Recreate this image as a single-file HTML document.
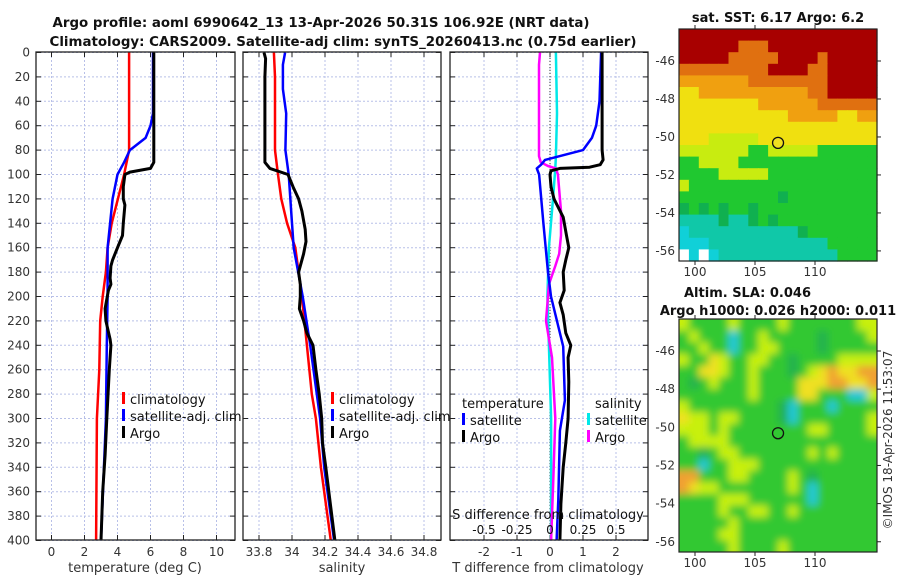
<!DOCTYPE html>
<html><head><meta charset="utf-8"><style>
body{margin:0;background:#fff;}
svg{display:block;font-family:"DejaVu Sans","Liberation Sans",sans-serif;}
.tk{font-size:12px;fill:#333;}
.tt{font-size:13px;font-weight:bold;fill:#111;}
.lg{font-size:13px;fill:#111;}
</style></head><body>
<svg id="fig" width="900" height="580" viewBox="0 0 900 580" xmlns="http://www.w3.org/2000/svg">
<defs>
<clipPath id="c1"><rect x="36" y="52" width="199" height="488"/></clipPath>
<clipPath id="c2"><rect x="243" y="52" width="198" height="488"/></clipPath>
<clipPath id="c3"><rect x="450" y="52" width="198" height="488"/></clipPath>
<clipPath id="cm2"><rect x="679" y="319" width="198" height="233"/></clipPath>
<filter id="bl" filterUnits="userSpaceOnUse" x="660" y="300" width="240" height="270"><feGaussianBlur stdDeviation="4"/></filter>
</defs>
<text class="tt" x="321" y="27" text-anchor="middle" textLength="537" lengthAdjust="spacingAndGlyphs">Argo profile: aoml 6990642_13 13-Apr-2026 50.31S 106.92E (NRT data)</text>
<text class="tt" x="343" y="46" text-anchor="middle" textLength="587" lengthAdjust="spacingAndGlyphs">Climatology: CARS2009. Satellite-adj clim: synTS_20260413.nc (0.75d earlier)</text>
<g id="plots"></g>
<g id="maps"></g>
<text class="tt" x="778" y="22" text-anchor="middle">sat. SST: 6.17 Argo: 6.2</text>
<text class="tt" x="684" y="297">Altim. SLA: 0.046</text>
<text class="tt" x="778" y="315" text-anchor="middle">Argo h1000: 0.026 h2000: 0.011</text>
<text class="tk" transform="translate(892,440) rotate(-90)" text-anchor="middle">©IMOS 18-Apr-2026 11:53:07</text>
</svg>
<script>
// ---- data ----
const tClimDepth=[0,80,100,140,160,180,200,220,260,300,400];
const tClim=[4.7,4.7,4.4,3.65,3.4,3.3,3.1,2.95,2.9,2.75,2.7];
const tSatDepth=[0,50,60,70,80,90,100,120,140,160,200,240,300,400];
const tSat=[6.15,6.15,6.0,5.7,4.75,4.4,4.0,3.7,3.55,3.4,3.4,3.35,3.3,3.0];
const tArgoDepth=[0,90,95,98,100,110,120,125,140,150,160,170,175,185,190,195,210,220,235,240,260,300,330,360,400];
const tArgo=[6.2,6.2,6.0,4.75,4.45,4.35,4.35,4.45,4.35,4.3,4.0,3.7,3.6,3.55,3.6,3.45,3.25,3.3,3.55,3.6,3.5,3.35,3.25,3.1,3.0];
const sClimDepth=[0,20,80,100,120,140,160,180,200,240,280,300,340,400];
const sClim=[33.89,33.897,33.897,33.915,33.935,33.97,34.02,34.04,34.06,34.09,34.12,34.145,34.175,34.235];
const sSatDepth=[0,10,30,50,80,100,140,160,200,240,300,340,400];
const sSat=[33.958,33.945,33.945,33.965,33.96,33.98,34.0,34.01,34.065,34.11,34.17,34.195,34.255];
const sArgoDepth=[0,5,20,90,95,100,110,120,130,145,155,165,180,190,200,210,220,230,240,260,280,300,320,340,400];
const sArgo=[33.83,33.84,33.836,33.836,33.866,33.976,34.006,34.04,34.06,34.08,34.085,34.07,34.04,34.05,34.05,34.045,34.07,34.09,34.127,34.145,34.165,34.18,34.185,34.205,34.26];
const dTSatDepth=[0,40,60,70,80,88,92,95,100,140,180,200,241,285,310,367,400];
const dTSat=[1.55,1.5,1.4,1.27,1.0,-0.15,-0.27,-0.4,-0.33,-0.2,-0.06,0.03,0.4,0.45,0.3,0.25,0.2];
const dTArgoDepth=[0,80,88,92,94,95,97,100,110,120,135,150,160,170,180,195,205,215,230,240,250,270,300,320,340,370,400];
const dTArgo=[1.58,1.58,1.61,1.52,1.2,0.3,0.03,0,0.03,0.12,0.4,0.5,0.57,0.48,0.4,0.43,0.3,0.4,0.48,0.63,0.55,0.57,0.55,0.48,0.4,0.33,0.3];
const dSSatDepth=[0,50,85,95,120,160,200,240,300,400];
const dSSat=[0.045,0.053,0.045,0.04,0.023,-0.008,-0.02,-0.008,0.008,0.008];
const dSArgoDepth=[0,10,60,85,90,93,95,100,130,150,165,175,190,200,220,230,250,300,350,400];
const dSArgo=[-0.076,-0.083,-0.083,-0.083,-0.07,-0.015,0.045,0.06,0.083,0.083,0.07,0.04,-0.008,-0.015,-0.03,-0.015,0.015,0.04,0.025,0.008];
const depthTicks=[0,20,40,60,80,100,120,140,160,180,200,220,240,260,280,300,320,340,360,380,400];
const tTicks=[0,2,4,6,8,10];
const sTicks=[33.8,34,34.2,34.4,34.6,34.8];
const sTickLabels=["33.8","34","34.2","34.4","34.6","34.8"];
const dTTicks=[-2,-1,0,1,2];
const dSTicks=[-0.5,-0.25,0,0.25,0.5];
const dSTickLabels=["-0.5","-0.25","0","0.25","0.5"];
const latTicks=[-46,-48,-50,-52,-54,-56];
const lonTicks=[100,105,110];
const argoLon=106.92, argoLat=-50.31;
const sstGrid=[
"RRRRRRRRRRRRRRRRRRRR","RRRRRROOORRRRRRRRRRR","RRRRROOOOORRRRORRRRR","OOOOOOOOORRRROORRRRR",
"oooooooOOOOOOOORRRRR","YYoooooooooooOORRRRR","YYYYYYYYooooooOOOOOO","YYYYYYYYYYYoooooYYoo",
"YYYYYYYYYYYYYYYYYYYY","YYYyyyyyYYYYYYYYYYYY","yyyyyyyGGyyyyyGGGGGG","GGyyyyGGGGGGGGGGGGGG",
"GGGGyyyyyGGGGGGGGGGG","yGGGGGGGGGGGGGGGGGGG","GGGGGGGGGGgGGGGGGGGG","gGgGgGGgGGGGGGGGGGGG",
"CCCCgCCgGgGGGGGGGGGG","cCCCCCCCCCCCgGGGGGGG","cccCCCCCCCCCCCCGGGGG","WcWcCCCCCCCCCCCCGGGG"];
const slaGrid=[
"yGGGGyGGGGyGGGGGGGyy","GyGGGcGGyGGGGGgGGGGy","GGyGGcGGyyGGGGgGGGGG","yGGYyGGyyGGgGGGGyyyy",
"GGYYyGGyGGGgGyYOYYOO","GgGyGGGyGGGGYYYOOYYO","GGGGGGGyGGGGYYGGGccy","yGGGGGGGGGgcGGGcGGGG",
"YyyGyyGGGGgcGGGGGGGy","yyyGyGGGGGGGGyyGGGGy","GyyyyGGGGGGGGGGGGGGG","GGgGyyGGGGGGGyGyGGGG",
"GGcGGyyyGGGGGGGGGGGG","OOGGGyyGGGGyGgGGGGGG","OYyyGGGGGGGyGcGGGGGG","GGGGyyyGGGGGGcGGGGGG",
"GGGGyGGyyGGyGGGGGGGG","GGGGGyGGGGGGGGGGGGGG","GGGGyyGGGGGGGGGGGGGG","GGGGGyGGGGyGGGGGGGGG"];
const palette={R:"#a80000",O:"#e07010",o:"#f0a010",Y:"#f0e010",y:"#c8ec10",G:"#20c830",g:"#10b050",C:"#10c8a8",c:"#10d0d8",W:"#ffffff"};
const palette2={R:"#a80000",O:"#f0a030",o:"#f0c020",Y:"#f0e020",y:"#c8f010",G:"#30c830",g:"#20b050",C:"#10c8a8",c:"#20c8d8",W:"#ffffff"};

// ---- helpers ----
const NS="http://www.w3.org/2000/svg";
function mk(tag,attrs,parent){const e=document.createElementNS(NS,tag);for(const k in attrs)e.setAttribute(k,attrs[k]);parent.appendChild(e);return e;}
const yD=d=>52.5+d*1.22;
const plots=document.getElementById('plots');
function panel(x0,w,clip,xf,ticks,labels,name){
  const g=mk('g',{},plots);
  
  
  ticks.forEach(t=>{const l=mk('line',{x1:xf(t),x2:xf(t),y1:52,y2:540,stroke:'#b8c0e8','stroke-width':1,'stroke-dasharray':'2,2'},g);
    });
  depthTicks.forEach(d=>{const l=mk('line',{x1:x0,x2:x0+w,y1:yD(d),y2:yD(d),stroke:'#b8c0e8','stroke-width':1,'stroke-dasharray':'2,2'},g);
    
    mk('line',{x1:x0,x2:x0+5,y1:yD(d),y2:yD(d),stroke:'#222'},g);mk('line',{x1:x0+w-5,x2:x0+w,y1:yD(d),y2:yD(d),stroke:'#222'},g);});
  ticks.forEach((t,i)=>{mk('line',{x1:xf(t),x2:xf(t),y1:540,y2:535,stroke:'#222'},g);mk('line',{x1:xf(t),x2:xf(t),y1:52,y2:57,stroke:'#222'},g);
    if(labels){const tx=mk('text',{x:xf(t),y:556,'text-anchor':'middle',class:'tk'},g);tx.textContent=labels[i];
      }});
  return g;
}
function series(g,clip,xf,vals,depths,color,w,name){
  const d=vals.map((v,i)=>(i?'L':'M')+xf(v).toFixed(1)+','+yD(depths[i]).toFixed(1)).join('');
  const p=mk('path',{d:d,fill:'none',stroke:color,'stroke-width':w,'stroke-linejoin':'round','clip-path':'url(#'+clip+')'},g);
  
  
}
function frame(g,x0,w){const r=mk('rect',{x:x0,y:52,width:w,height:488,fill:'none',stroke:'#222','stroke-width':1.3},g);
  }
function legend(g,x,y,items){items.forEach((it,i)=>{
  if(it[0])mk('rect',{x:x,y:y+i*17-9,width:3,height:12,fill:it[0]},g);
  const t=mk('text',{x:x+(it[0]?8:0),y:y+i*17+3,class:'lg'},g);t.textContent=it[1];
  });}

// panel 1 temperature
const xT=v=>51.5+v*16.5;
let g1=panel(36,199,'c1',xT,tTicks,tTicks.map(String),'temperature-panel');
series(g1,'c1',xT,tClim,tClimDepth,'#ff0000',2.5,'temp-climatology-line');
series(g1,'c1',xT,tSat,tSatDepth,'#0000ff',2.5,'temp-satellite-line');
series(g1,'c1',xT,tArgo,tArgoDepth,'#000000',3,'temp-argo-line');
frame(g1,36,199);
depthTicks.forEach(d=>{const t=mk('text',{x:30,y:yD(d)+4,'text-anchor':'end',class:'tk'},g1);t.textContent=d;
  });
legend(g1,122,401,[['#ff0000','climatology'],['#0000ff','satellite-adj. clim'],['#000000','Argo']]);
let tl=mk('text',{x:135,y:572,'text-anchor':'middle',class:'tk',style:'font-size:13px'},g1);tl.textContent='temperature (deg C)';


// panel 2 salinity
const xS=v=>259+(v-33.8)*165;
let g2=panel(243,198,'c2',xS,sTicks,sTickLabels,'salinity-panel');
series(g2,'c2',xS,sClim,sClimDepth,'#ff0000',2.5,'sal-climatology-line');
series(g2,'c2',xS,sSat,sSatDepth,'#0000ff',2.5,'sal-satellite-line');
series(g2,'c2',xS,sArgo,sArgoDepth,'#000000',3,'sal-argo-line');
frame(g2,243,198);
legend(g2,331,401,[['#ff0000','climatology'],['#0000ff','satellite-adj. clim'],['#000000','Argo']]);
tl=mk('text',{x:342,y:572,'text-anchor':'middle',class:'tk',style:'font-size:13px'},g2);tl.textContent='salinity';


// panel 3 differences
const xDT=v=>550+v*33;
const xDS=v=>550+v*132;
let g3=panel(450,198,'c3',xDT,dTTicks,dTTicks.map(String),'difference-panel');
mk('line',{x1:xDT(0),x2:xDT(0),y1:52,y2:540,stroke:'#333','stroke-width':1,'stroke-dasharray':'1,2'},g3);
series(g3,'c3',xDS,dSSat,dSSatDepth,'#00e8e8',2.5,'sdiff-satellite-line');
series(g3,'c3',xDS,dSArgo,dSArgoDepth,'#ff00ff',2.5,'sdiff-argo-line');
series(g3,'c3',xDT,dTSat,dTSatDepth,'#0000ff',2.5,'tdiff-satellite-line');
series(g3,'c3',xDT,dTArgo,dTArgoDepth,'#000000',3,'tdiff-argo-line');
frame(g3,450,198);
legend(g3,462,405,[[null,'temperature']]);
legend(g3,462,422,[['#0000ff','satellite'],['#000000','Argo']]);
legend(g3,595,405,[[null,'salinity']]);
legend(g3,587,422,[['#00e8e8','satellite'],['#ff00ff','Argo']]);
dSTicks.forEach((t,i)=>{const tx=mk('text',{x:xDS(t),y:534,'text-anchor':'middle',class:'tk',style:'fill:#111'},g3);tx.textContent=dSTickLabels[i];
  });
tl=mk('text',{x:548,y:519,'text-anchor':'middle',class:'tk',style:'font-size:13px;fill:#111'},g3);tl.textContent='S difference from climatology';

tl=mk('text',{x:548,y:572,'text-anchor':'middle',class:'tk',style:'font-size:13px'},g3);tl.textContent='T difference from climatology';


// maps
const maps=document.getElementById('maps');
function map(y0,h,grid,pal,name,blur,clip){
  const g=mk('g',{},maps);
  
  
  const x0=679,w=198;
  const xL=v=>695+(v-100)*12;
  const yL=v=>(y0+32)+(-46-v)*(h-6)/11.9;
  const cg=mk('g',clip?{'clip-path':'url(#'+clip+')'}:{},g);
  const ig=mk('g',blur?{filter:'url(#bl)'}:{},cg);
  const rows=grid.length,cols=grid[0].length,cw=w/cols,ch=h/rows;
  grid.forEach((row,r)=>{for(let c=0;c<cols;c++){const cell=mk('rect',{x:x0+c*cw-(blur?8*(c==0):0),y:y0+r*ch-(blur?8*(r==0):0),width:cw+0.6+(blur?8*(c==0||c==cols-1):0),height:ch+0.6+(blur?8*(r==0||r==rows-1):0),fill:pal[row[c]]},ig);
    }});
  mk('rect',{x:x0,y:y0,width:w,height:h,fill:'none',stroke:'#222','stroke-width':1.2},g);
  latTicks.forEach(v=>{const yy=yL(v);mk('line',{x1:x0+w,x2:x0+w+4,y1:yy,y2:yy,stroke:'#222'},g);
    const t=mk('text',{x:675,y:yy+4,'text-anchor':'end',class:'tk'},g);t.textContent=v;
    });
  lonTicks.forEach(v=>{const xx=xL(v);mk('line',{x1:xx,x2:xx,y1:y0,y2:y0-4,stroke:'#222'},g);mk('line',{x1:xx,x2:xx,y1:y0+h,y2:y0+h+4,stroke:'#222'},g);
    const t=mk('text',{x:xx,y:y0+h+15,'text-anchor':'middle',class:'tk'},g);t.textContent=v;
    });
  const m=mk('circle',{cx:xL(argoLon),cy:yL(argoLat),r:5.5,fill:blur?'none':'#f0e020',stroke:'#111','stroke-width':1.3},g);
  
  
}
map(29,232,sstGrid,palette,'sst-map',false,null);
map(319,233,slaGrid,palette2,'sla-map',true,'cm2');
</script>
</body></html>
